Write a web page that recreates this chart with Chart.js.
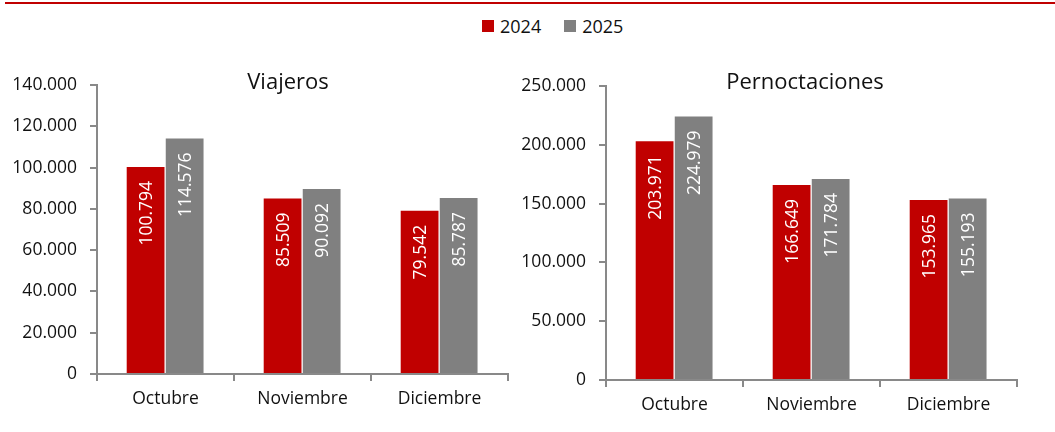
<!DOCTYPE html>
<html lang="es">
<head>
  <meta charset="UTF-8">
  <title>Viajeros y Pernoctaciones</title>
  <script src="https://cdn.jsdelivr.net/npm/chart.js"></script>
  <style>
    * { box-sizing: border-box; }
    body {
      margin: 0;
      width: 1055px;
      height: 432px;
      background: #fff;
      font-family: 'Open Sans', sans-serif;
      position: relative;
      overflow: hidden;
    }
    #topLine {
      position: absolute;
      left: 5px; right: 0; top: 2px;
      height: 2px;
      background: #c00000;
    }
    #legend {
      position: absolute;
      left: 482px; top: 13px;
      display: flex;
      align-items: center;
      font-size: 18px;
      line-height: 26px;
      color: #111;
    }
    #legend .sq {
      display: inline-block;
      width: 12px; height: 12px;
      margin-right: 6px;
    }
    #legend .item { display: flex; align-items: center; margin-right: 23px; }
    .box { position: absolute; top: 0; height: 432px; }
    #boxLeft { left: 0; width: 520px; }
    #boxRight { left: 520px; width: 535px; }
  </style>
</head>
<body>
  <div id="topLine"></div>
  <div id="legend">
    <div class="item"><span class="sq" style="background:#c00000"></span>2024</div>
    <div class="item"><span class="sq" style="background:#808080"></span>2025</div>
  </div>
  <div class="box" id="boxLeft"><canvas id="chartViajeros"></canvas></div>
  <div class="box" id="boxRight"><canvas id="chartPernoct"></canvas></div>

  <script>
    const meses = ['Octubre', 'Noviembre', 'Diciembre'];
    const series = ['2024', '2025'];
    const viajeros2024 = [100794, 85509, 79542];
    const viajeros2025 = [114576, 90092, 85787];
    const pernoct2024 = [203971, 166649, 153965];
    const pernoct2025 = [224979, 171784, 155193];

    const ROJO = '#c00000';
    const GRIS = '#808080';
    const EJE = '#898989';
    const FUENTE = 17.5;

    function miles(v) {
      return String(v).replace(/\B(?=(\d{3})+(?!\d))/g, '.');
    }

    // etiquetas giradas dentro de cada barra, pegadas arriba
    const barLabels = {
      id: 'barLabels',
      afterDatasetsDraw(chart) {
        const ctx = chart.ctx;
        ctx.save();
        ctx.font = FUENTE + 'px "Open Sans"';
        ctx.fillStyle = '#fff';
        chart.data.datasets.forEach((ds, i) => {
          chart.getDatasetMeta(i).data.forEach((bar, j) => {
            ctx.save();
            ctx.translate(bar.x, bar.y + 15);
            ctx.rotate(-Math.PI / 2);
            ctx.textAlign = 'right';
            ctx.textBaseline = 'middle';
            ctx.fillText(miles(ds.data[j]), 0, 1);
            ctx.restore();
          });
        });
        ctx.restore();
      }
    };

    // titulo superpuesto al area del grafico
    const overTitle = {
      id: 'overTitle',
      afterDraw(chart, args, opts) {
        const ctx = chart.ctx;
        ctx.save();
        ctx.font = '22px "Open Sans"';
        ctx.fillStyle = '#111';
        ctx.textAlign = 'center';
        ctx.textBaseline = 'alphabetic';
        ctx.fillText(opts.text, opts.x, opts.y);
        ctx.restore();
      }
    };

    function makeChart(id, d24, d25, max, step, pad, yWidth, xHeight, titulo, tx) {
      return new Chart(document.getElementById(id), {
        type: 'bar',
        data: {
          labels: meses,
          datasets: [
            { label: series[0], data: d24, backgroundColor: ROJO },
            { label: series[1], data: d25, backgroundColor: GRIS }
          ]
        },
        options: {
          responsive: true,
          maintainAspectRatio: false,
          animation: false,
          layout: { padding: pad },
          datasets: {
            bar: {
              categoryPercentage: 0.57, barPercentage: 1,
              borderColor: 'rgba(255,255,255,0.45)',
              borderWidth: { top: 1, right: 1, left: 0, bottom: 0 },
              borderSkipped: 'bottom'
            }
          },
          scales: {
            x: {
              grid: { display: true, drawOnChartArea: false, drawTicks: true, tickLength: 7, color: EJE, lineWidth: 2 },
              border: { display: true, color: EJE, width: 2 },
              ticks: { color: '#111', font: { family: 'Open Sans', size: FUENTE }, padding: 8 },
              afterFit(s) { s.height = xHeight; }
            },
            y: {
              min: 0, max: max,
              ticks: { stepSize: step, color: '#111', font: { family: 'Open Sans', size: FUENTE }, padding: 13, callback: v => miles(v) },
              grid: { display: true, drawOnChartArea: false, drawTicks: true, tickLength: 7, color: EJE, lineWidth: 2 },
              border: { display: true, color: EJE, width: 2 },
              afterFit(s) { s.width = yWidth; }
            }
          },
          plugins: {
            legend: { display: false },
            tooltip: { enabled: false },
            overTitle: { text: titulo, x: tx, y: 89 }
          }
        },
        plugins: [barLabels, overTitle]
      });
    }

    makeChart('chartViajeros', viajeros2024, viajeros2025, 140000, 20000,
      { left: 0, top: 85, right: 12, bottom: 0 }, 97, 58, 'Viajeros', 288);
    makeChart('chartPernoct', pernoct2024, pernoct2025, 250000, 50000,
      { left: 0, top: 86, right: 38, bottom: 0 }, 86, 52, 'Pernoctaciones', 285);
  </script>
</body>
</html>
